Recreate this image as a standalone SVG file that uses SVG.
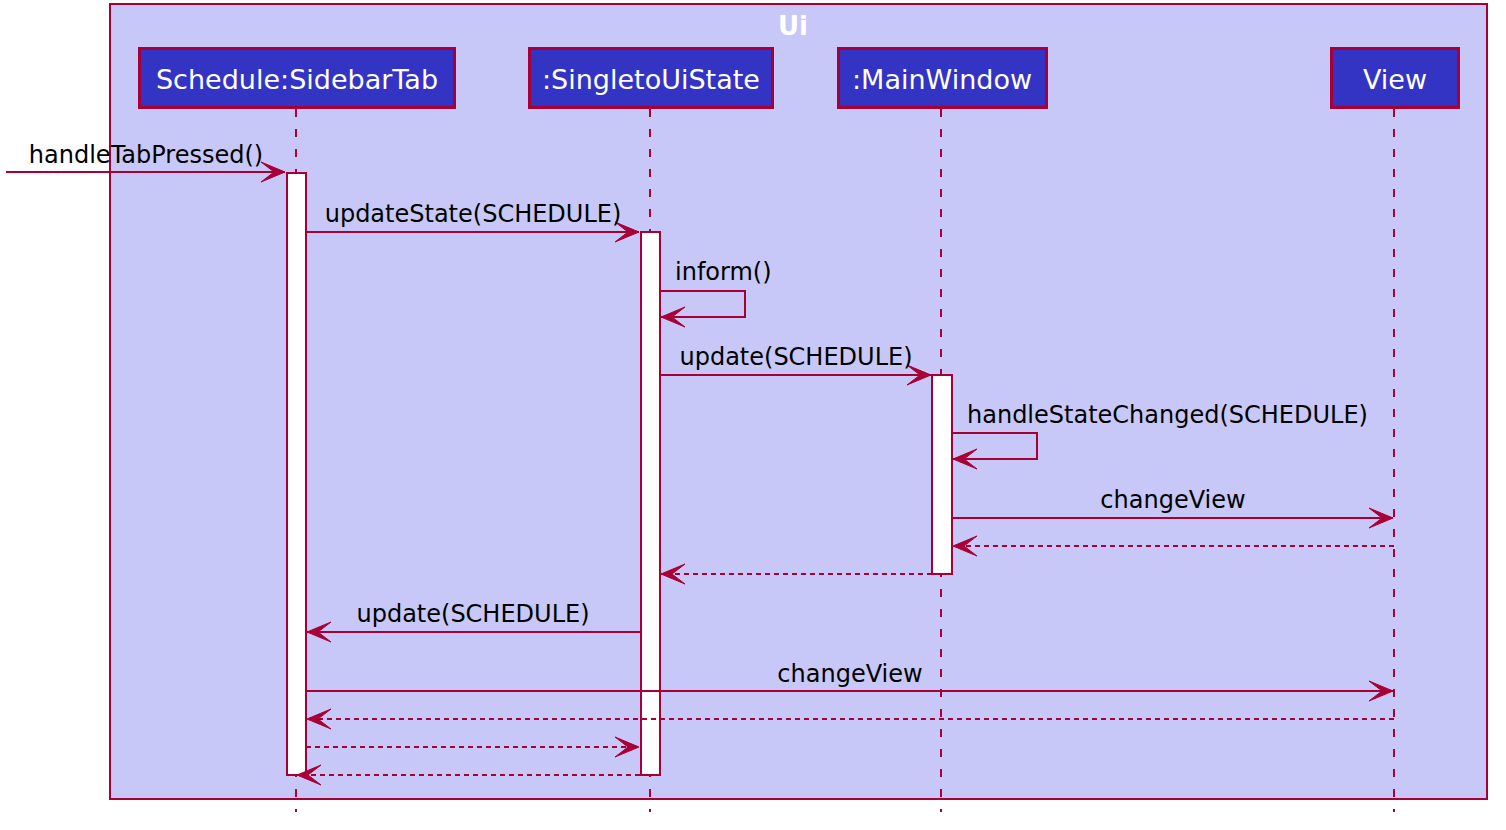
<svg xmlns="http://www.w3.org/2000/svg" width="1506" height="830" viewBox="0 0 1506 830">
<style>
.frame{fill:#C8C8F8;stroke:#A80036;stroke-width:2}
.title{font-family:"DejaVu Sans",sans-serif;font-size:26px;font-weight:bold;fill:#FFFFFF}
.pbox{fill:#3434C4;stroke:#A80036;stroke-width:3}
.ptext{font-family:"DejaVu Sans",sans-serif;font-size:27px;fill:#FFFFFF;text-anchor:middle}
.life{stroke:#A80036;stroke-width:2;stroke-dasharray:8,12;fill:none}
.act{fill:#FFFFFF;stroke:#A80036;stroke-width:2}
.msg{stroke:#A80036;stroke-width:2;fill:none;marker-end:url(#ah)}
.ret{stroke:#A80036;stroke-width:2;fill:none;stroke-dasharray:5,4;marker-end:url(#ah)}
.lbl{font-family:"DejaVu Sans",sans-serif;font-size:24px;fill:#000000;text-anchor:middle}
.lbls{font-family:"DejaVu Sans",sans-serif;font-size:24px;fill:#000000}
</style>
<defs>
<marker id="ah" markerUnits="userSpaceOnUse" viewBox="-27 -13 30 26" markerWidth="30" markerHeight="26" refX="0" refY="0" orient="auto">
<path d="M0,0 L-24,-10 L-11,0 L-24,10 Z" fill="#A80036" stroke="#A80036" stroke-width="1" stroke-linejoin="miter"/>
</marker>
</defs>
<rect class="frame" x="110" y="4" width="1377" height="795"/>
<text class="title" x="793" y="35" text-anchor="middle">Ui</text>
<g id="lifelines">
<line class="life" x1="296" y1="109" x2="296" y2="812"/>
<line class="life" x1="650" y1="109" x2="650" y2="812"/>
<line class="life" x1="941" y1="109" x2="941" y2="812"/>
<line class="life" x1="1394" y1="109" x2="1394" y2="812"/>
</g>
<g id="p-sidebar">
<rect class="pbox" x="139.5" y="48.5" width="315" height="59"/>
<text class="ptext" x="297" y="89">Schedule:SidebarTab</text>
<rect class="act" x="287" y="173" width="19" height="602"/>
</g>
<g id="p-singleto">
<rect class="pbox" x="529.5" y="48.5" width="243" height="59"/>
<text class="ptext" x="651" y="89">:SingletoUiState</text>
<rect class="act" x="641" y="232" width="19" height="543"/>
</g>
<g id="p-mainwindow">
<rect class="pbox" x="838.5" y="48.5" width="208" height="59"/>
<text class="ptext" x="942" y="89">:MainWindow</text>
<rect class="act" x="932" y="375" width="20" height="199"/>
</g>
<g id="p-view">
<rect class="pbox" x="1331.5" y="48.5" width="127" height="59"/>
<text class="ptext" x="1395" y="89">View</text>
</g>
<g id="connectors">
<line class="msg" x1="6" y1="172" x2="285" y2="172"/>
<text class="lbl" x="146" y="163">handleTabPressed()</text>
<line class="msg" x1="306" y1="232" x2="639" y2="232"/>
<text class="lbl" x="473" y="222">updateState(SCHEDULE)</text>
<polyline class="msg" points="660,291 745,291 745,317 661,317"/>
<text class="lbls" x="675" y="280">inform()</text>
<line class="msg" x1="660" y1="375" x2="931" y2="375"/>
<text class="lbl" x="796" y="365">update(SCHEDULE)</text>
<polyline class="msg" points="952,433 1037,433 1037,459 953,459"/>
<text class="lbls" x="967" y="423">handleStateChanged(SCHEDULE)</text>
<line class="msg" x1="952" y1="518" x2="1393" y2="518"/>
<text class="lbl" x="1173" y="508">changeView</text>
<line class="ret" x1="1394" y1="546" x2="953" y2="546"/>
<line class="ret" x1="932" y1="574" x2="661" y2="574"/>
<line class="msg" x1="640" y1="632" x2="307" y2="632"/>
<text class="lbl" x="473" y="622">update(SCHEDULE)</text>
<line class="msg" x1="306" y1="691" x2="1393" y2="691"/>
<text class="lbl" x="850" y="682">changeView</text>
<line class="ret" x1="1394" y1="719" x2="307" y2="719"/>
<line class="ret" x1="306" y1="747" x2="639" y2="747"/>
<line class="ret" x1="640" y1="775" x2="297" y2="775"/>
</g>
</svg>
